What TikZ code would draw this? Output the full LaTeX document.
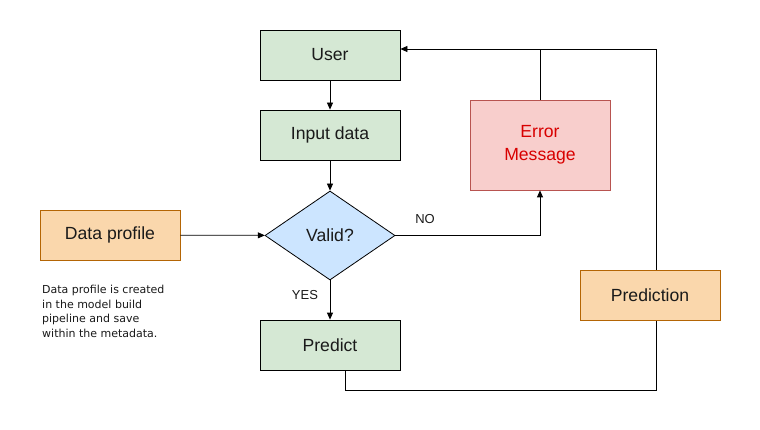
\documentclass[tikz,border=0pt]{standalone}
\usepackage{fontspec}
\setmainfont{Liberation Sans}
\newfontfamily\notefont{DejaVu Sans}
\usetikzlibrary{shapes.geometric,arrows.meta}
\definecolor{gfill}{HTML}{D5E8D4}
\definecolor{rfill}{HTML}{F8CECC}
\definecolor{rline}{HTML}{B85450}
\definecolor{ofill}{HTML}{FAD7AC}
\definecolor{oline}{HTML}{B46504}
\definecolor{bfill}{HTML}{CCE5FF}
\definecolor{txt}{HTML}{1A1A1A}
\definecolor{errtxt}{HTML}{D80000}
\begin{document}
\begin{tikzpicture}[x=1pt,y=-1pt,
  box/.style={draw=black,line width=0.8pt,minimum width=140pt,minimum height=50pt,inner sep=0pt,
    font=\fontsize{17.6}{22.5}\selectfont,text=txt},
  gbox/.style={box,fill=gfill},
  obox/.style={box,fill=ofill,draw=oline},
  conn/.style={draw=black,line width=0.8pt,-{Triangle[length=7pt,width=6pt]}},
  plain/.style={draw=black,line width=0.8pt},
  lbl/.style={font=\fontsize{13}{15}\selectfont,text=txt,inner sep=0pt}]
\useasboundingbox (0,0) rectangle (760,430);
\fill[white] (0,0) rectangle (760,430);
\node[gbox] (user) at (330,55) {User};
\node[gbox] (input) at (330,135) {Input data};
\node[diamond,draw=black,fill=bfill,line width=0.8pt,minimum width=130pt,minimum height=89pt,inner sep=0pt,
  font=\fontsize{17.6}{21}\selectfont,text=txt,aspect=1.46] (valid) at (330,235.5) {Valid?};
\node[obox] (profile) at (110,235) {Data profile};
\node[gbox] (predict) at (330,345) {Predict};
\node[box,fill=rfill,draw=rline,minimum height=90pt,text=errtxt,align=center] (error) at (540,145) {Error\\Message};
\coordinate (c1) at (345,390);
\coordinate (c2) at (656,390);
\coordinate (c3) at (656,49);
\coordinate (c4) at (540,49);
\draw[plain] (predict.south -| c1) -- (c1) -- (c2) -- (c3) -- (c4);
\node[obox] (prediction) at (650,295) {Prediction};
\draw[conn] (error.north) -- (c4) -- (user.east |- c4);
\draw[conn] (user) -- (input);
\draw[conn] (input) -- (valid);
\draw[conn] (profile) -- (valid);
\draw[conn] (valid) -- (predict);
\draw[conn] (valid.east) -- (error.south |- valid.east) -- (error.south);
\node[lbl] (no) at (425,219.5) {NO};
\node[lbl] (yes) at (305,295.5) {YES};
\node[anchor=north west,align=left,inner sep=0pt,text=txt,font=\notefont\fontsize{11}{14.7}\selectfont] (note) at (42,285)
  {Data profile is created\\in the model build\\pipeline and save\\within the metadata.};
\end{tikzpicture}
\end{document}
